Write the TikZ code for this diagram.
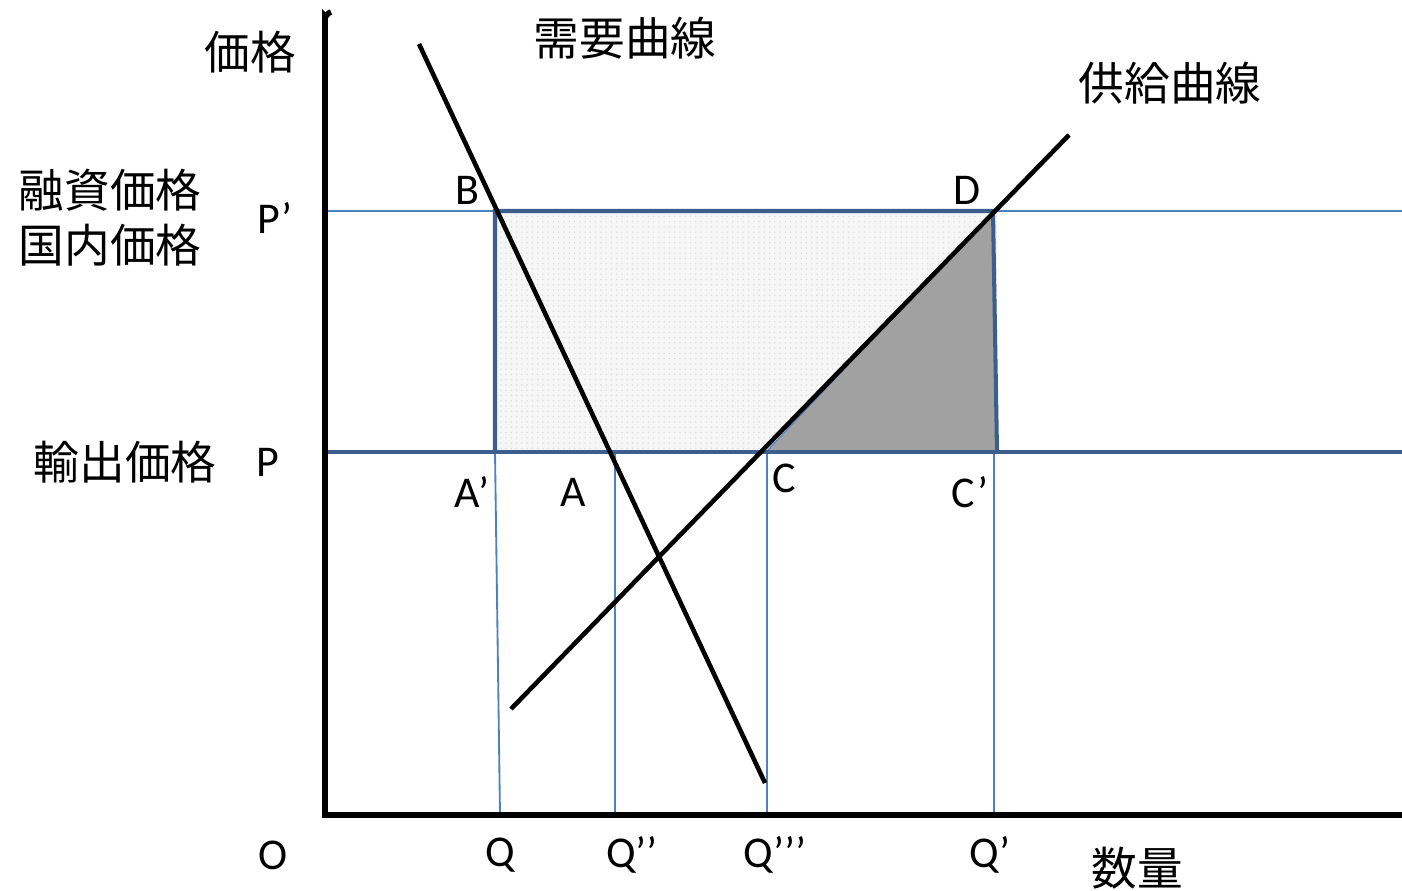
\documentclass[tikz,border=0pt]{standalone}
\usepackage{fontspec}
\setmainfont{Carlito}
\newfontfamily\jp{Noto Sans CJK JP}
\usetikzlibrary{positioning, patterns}

\definecolor{guideblue}{HTML}{4F81BD}
\definecolor{edgeblue}{HTML}{3B5E8C}

\begin{document}
\begin{tikzpicture}[
    x=0.02cm, y=-0.02cm,
    every node/.style={font=\fontsize{25}{30}\selectfont, inner sep=0pt},
    jplabel/.style={font=\jp\fontsize{26}{31}\selectfont},
    axisline/.style={line width=3.2pt, black},
    curve/.style={line width=2.6pt, black},
    guide/.style={line width=1.05pt, guideblue},
    pricebar/.style={line width=2.3pt, edgeblue},
    boxedge/.style={line width=2.3pt, edgeblue},
    lightzone/.style={fill=gray!7},
    darkzone/.style={fill=black!37, draw=guideblue, line width=0.6pt}
]
\useasboundingbox (0,0) rectangle (1402,891);

% ============ KEY POINTS ============
\coordinate (origin) at (325,815);
\coordinate (ytop) at (325,16);
\coordinate (xend) at (1402,815);
\coordinate (Pleft) at (328,452);
\coordinate (Pright) at (1402,452);
\coordinate (Ppleft) at (328,211);
\coordinate (Ppright) at (1402,211);
\coordinate (B) at (495,211);
\coordinate (Ap) at (495,452);
\coordinate (D) at (993,211);
\coordinate (Cp) at (997,452);
\coordinate (C) at (766,452);
\coordinate (A) at (612,452);
\coordinate (dtop) at (419,44);
\coordinate (dbot) at (765,783);
\coordinate (sbot) at (511,709);
\coordinate (stop) at (1069,135);

% ============ SHADED AREAS ============
\fill[lightzone] (B) rectangle (Cp);
\fill[pattern=dots, pattern color=gray!25] (B) rectangle (Cp);
\filldraw[darkzone] (C) -- (D) -- (Cp) -- cycle;

% ============ GUIDE LINES ============
\draw[guide] (Ppleft) -- (Ppright);
\draw[guide] (Ap) -- (500,815);
\draw[guide] (615,452) -- (615,815);
\draw[guide] (767,452) -- (767,815);
\draw[guide] (994,452) -- (994,815);

% ============ PRICE BAR AND BOX ============
\draw[pricebar] (Pleft) -- (Pright);
\draw[boxedge] (Ap) -- (B) -- (D) -- (Cp);

% ============ CURVES ============
\draw[curve] (dtop) -- (dbot);
\draw[curve] (sbot) -- (stop);

% ============ AXES ============
\draw[axisline] (origin) -- (ytop) to[out=-90,in=180] (331,12);
\draw[axisline] (322,815) -- (xend);

% ============ LABELS ============
\node[jplabel] (ylab) at (250,52) {価格};
\node[jplabel] (dlab) at (625,38) {需要曲線};
\node[jplabel] (slab) at (1170,83) {供給曲線};
\node[jplabel] (loanlab) at (110,190) {融資価格};
\node[jplabel, below=0.24cm of loanlab] (domlab) {国内価格};
\node[jplabel] (explab) at (125,462) {輸出価格};
\node[jplabel] (xlab) at (1137,868) {数量};

\node (Pplab) at (275,218) {P’};
\node (Plab) at (268,462) {P};
\node (Blab) at (467,190) {B};
\node (Dlab) at (967,190) {D};
\node (Aplab) at (472,492) {A’};
\node (Alab) at (573,492) {A};
\node (Clab) at (784,478) {C};
\node (Cplab) at (970,492) {C’};

\node (Olab) at (273,855) {O};
\node (Qlab) at (500,855) {Q};
\node (Q2lab) at (632,855) {Q’’};
\node (Q3lab) at (775,855) {Q’’’};
\node (Qplab) at (990,855) {Q’};
\end{tikzpicture}
\end{document}
